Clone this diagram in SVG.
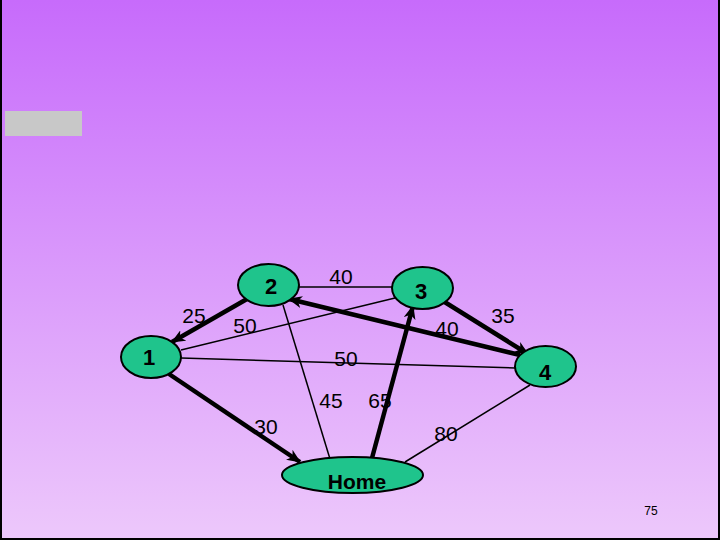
<svg xmlns="http://www.w3.org/2000/svg" width="720" height="540" viewBox="0 0 720 540">
<defs>
<linearGradient id="bg" x1="0" y1="0" x2="0" y2="1">
<stop offset="0" stop-color="#c76bfb"/>
<stop offset="1" stop-color="#edc8fb"/>
</linearGradient>
<marker id="arr" viewBox="0 0 14 12" refX="13" refY="6" markerWidth="14" markerHeight="12" markerUnits="userSpaceOnUse" orient="auto">
<path d="M0,0 L14,6 L0,12 L4,6 z" fill="#000"/>
</marker>
</defs>
<style>
.node{fill:#1fc48c;stroke:#000;stroke-width:2}
.nl{font-family:"Liberation Sans",Arial,sans-serif;font-size:22px;font-weight:bold;fill:#000;text-anchor:middle}
.el{font-family:"Liberation Sans",Arial,sans-serif;font-size:21px;fill:#000;text-anchor:middle}
.thin{stroke:#000;stroke-width:1.5;fill:none}
.thick{stroke:#000;stroke-width:4.5;fill:none;marker-end:url(#arr)}
</style>
<rect x="0" y="0" width="720" height="540" fill="url(#bg)"/>
<path d="M1,0 V539 H719 V0" fill="none" stroke="#000" stroke-width="2"/>
<rect x="5" y="111" width="77" height="25" fill="#c8c8c8"/>
<g id="connectors">
<line class="thin" x1="299" y1="287" x2="392" y2="287"/>
<line class="thin" x1="181" y1="350" x2="395" y2="298"/>
<line class="thin" x1="181" y1="358" x2="515" y2="368"/>
<line class="thin" x1="283" y1="305" x2="330" y2="459"/>
<line class="thin" x1="405" y1="462" x2="530" y2="385"/>
<line class="thick" x1="247" y1="299" x2="172" y2="342"/>
<line class="thick" x1="520" y1="355" x2="289" y2="299"/>
<line class="thick" x1="443" y1="301" x2="528" y2="354"/>
<line class="thick" x1="169" y1="374" x2="300" y2="462"/>
<line class="thick" x1="372" y1="458" x2="413" y2="306"/>
</g>
<g id="node-2"><ellipse class="node" cx="268.5" cy="285" rx="30.5" ry="21"/><text class="nl" x="271" y="294">2</text></g>
<g id="node-1"><ellipse class="node" cx="151" cy="357" rx="30" ry="21"/><text class="nl" x="149" y="365">1</text></g>
<g id="node-3"><ellipse class="node" cx="422.5" cy="288" rx="30.5" ry="21"/><text class="nl" x="421" y="299">3</text></g>
<g id="node-4"><ellipse class="node" cx="545.5" cy="366.5" rx="30.5" ry="20.5"/><text class="nl" x="545" y="380">4</text></g>
<g id="node-home"><ellipse class="node" cx="352.5" cy="475" rx="70.5" ry="18"/><text class="el" x="357" y="489" style="font-weight:bold;font-size:21px">Home</text></g>
<g id="labels">
<text class="el" x="341" y="284">40</text>
<text class="el" x="194" y="323">25</text>
<text class="el" x="245" y="333">50</text>
<text class="el" x="346" y="366">50</text>
<text class="el" x="447" y="336">40</text>
<text class="el" x="503" y="323">35</text>
<text class="el" x="266" y="434">30</text>
<text class="el" x="331" y="408">45</text>
<text class="el" x="380" y="408">65</text>
<text class="el" x="446" y="441">80</text>
<text x="651" y="515" style="font-family:'Liberation Sans',Arial,sans-serif;font-size:12px;fill:#000;text-anchor:middle">75</text>
</g>
</svg>
